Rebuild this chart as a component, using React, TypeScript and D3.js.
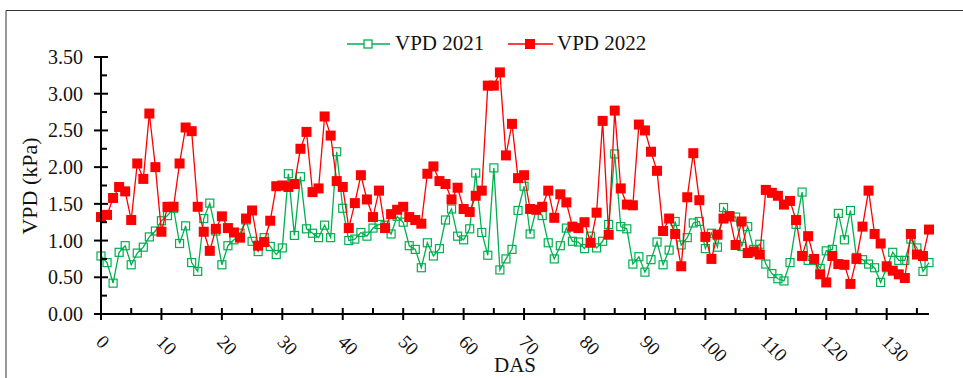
import * as d3 from "d3";

// VPD 2021 (green, open squares), one value per day (DAS 0..137)
const vpd2021 = [
  0.79, 0.7, 0.42, 0.84, 0.93, 0.67, 0.83, 0.91, 1.05, 1.13,
  1.27, 1.34, 1.44, 0.96, 1.2, 0.7, 0.58, 1.3, 1.51, 1.13,
  0.67, 0.93, 1.01, 1.1, 1.28, 0.99, 0.85, 1.04, 0.92, 0.81,
  0.9, 1.91, 1.07, 1.87, 1.16, 1.1, 1.04, 1.21, 1.04, 2.21,
  1.44, 1.0, 1.02, 1.11, 1.06, 1.17, 1.22, 1.21, 1.09, 1.33,
  1.25, 0.93, 0.88, 0.63, 0.97, 0.79, 0.89, 1.28, 1.43, 1.06,
  1.01, 1.16, 1.92, 1.11, 0.8, 1.99, 0.6, 0.75, 0.88, 1.41,
  1.74, 1.09, 1.42, 1.34, 0.97, 0.75, 0.93, 1.17, 0.99, 0.98,
  0.89, 1.06, 0.9, 0.99, 1.22, 2.18, 1.19, 1.16, 0.68, 0.78,
  0.57, 0.74, 0.98, 0.67, 0.87, 1.26, 0.94, 1.04, 1.24, 1.26,
  0.89, 1.1, 0.91, 1.45, 1.34, 1.32, 0.92, 1.19, 0.88, 0.95,
  0.68, 0.55, 0.48, 0.45, 0.7, 1.22, 1.66, 0.73, 0.73, 0.62,
  0.86, 0.88, 1.37, 1.01, 1.41, 0.77, 0.74, 0.68, 0.63, 0.43,
  0.63, 0.84, 0.73, 0.73, 1.02, 0.9, 0.58, 0.7,
];

// VPD 2022 (red, filled squares)
const vpd2022 = [
  1.32, 1.35, 1.58, 1.73, 1.67, 1.28, 2.05, 1.84, 2.73, 2.0,
  1.12, 1.46, 1.46, 2.05, 2.54, 2.49, 1.46, 1.12, 0.86, 1.16,
  1.33, 1.17, 1.11, 1.04, 1.3, 1.41, 0.93, 0.98, 1.27, 1.74,
  1.75, 1.73, 1.77, 2.25, 2.48, 1.66, 1.71, 2.69, 2.43, 1.81,
  1.73, 1.17, 1.51, 1.89, 1.56, 1.32, 1.68, 1.17, 1.36, 1.42,
  1.46, 1.32, 1.28, 1.23, 1.91, 2.01, 1.81, 1.77, 1.56, 1.72,
  1.43, 1.39, 1.61, 1.68, 3.11, 3.11, 3.29, 2.16, 2.59, 1.85,
  1.89, 1.43, 1.42, 1.46, 1.68, 1.31, 1.63, 1.52, 1.19, 1.17,
  1.25, 0.97, 1.38, 2.63, 1.08, 2.77, 1.71, 1.49, 1.48, 2.58,
  2.5, 2.21, 1.95, 1.13, 1.3, 1.09, 0.65, 1.59, 2.19, 1.55,
  1.05, 0.75, 1.08, 1.3, 1.33, 0.94, 1.26, 0.83, 0.85, 0.81,
  1.69, 1.65, 1.61, 1.49, 1.54, 1.28, 0.79, 1.06, 0.75, 0.54,
  0.43, 0.79, 0.68, 0.67, 0.41, 0.75, 1.19, 1.68, 1.09, 0.96,
  0.65, 0.59, 0.54, 0.49, 1.09, 0.81, 0.79, 1.15,
];

const xTicks = [0, 10, 20, 30, 40, 50, 60, 70, 80, 90, 100, 110, 120, 130];
const yTicks = [0, 0.5, 1, 1.5, 2, 2.5, 3, 3.5];

const GREEN = "#00b050";
const RED = "#ff0000";
const FONT = "'Liberation Serif', 'Times New Roman', serif";

export default function App() {
  const width = 963;
  const height = 378;

  const x = d3.scaleLinear().domain([0, 137]).range([101, 929]);
  const y = d3.scaleLinear().domain([0, 3.5]).range([314, 57]);

  const line = d3
    .line<number>()
    .x((_, i) => x(i))
    .y((d) => y(d));

  const minorX = d3.range(5, 137, 10);
  const minorY = d3.range(0.25, 3.5, 0.5);

  return (
    <svg
      width={width}
      height={height}
      style={{ position: "absolute", left: 0, top: 0, background: "#fff" }}
      fontFamily={FONT}
    >
      <path d="M6,378V10.5H963" fill="none" stroke="#333" strokeWidth={1} />

      {/* legend */}
      <g>
        <line x1={347} x2={390} y1={44} y2={44} stroke={GREEN} strokeWidth={1.5} />
        <rect x={364} y={40} width={8} height={8} fill="#fff" stroke={GREEN} strokeWidth={1.3} />
        <text x={395} y={50} fontSize={21} fill="#111">VPD 2021</text>
        <line x1={508} x2={553} y1={44} y2={44} stroke={RED} strokeWidth={1.5} />
        <rect x={525} y={39} width={10} height={10} fill={RED} />
        <text x={557} y={50} fontSize={21} fill="#111">VPD 2022</text>
      </g>

      {/* series */}
      <path d={line(vpd2021) ?? ""} fill="none" stroke={GREEN} strokeWidth={1.3} />
      {vpd2021.map((v, i) => (
        <rect
          key={"g" + i}
          x={x(i) - 4}
          y={y(v) - 4}
          width={8}
          height={8}
          fill="none"
          stroke={GREEN}
          strokeWidth={1.2}
        />
      ))}
      <path d={line(vpd2022) ?? ""} fill="none" stroke={RED} strokeWidth={1.3} />
      {vpd2022.map((v, i) => (
        <rect key={"r" + i} x={x(i) - 5} y={y(v) - 5} width={10} height={10} fill={RED} />
      ))}

      {/* axes */}
      <g stroke="#000" strokeWidth={2}>
        <line x1={x(0)} x2={x(0)} y1={y(0) + 1} y2={y(3.5)} />
        <line x1={x(0) - 1} x2={x(137)} y1={y(0)} y2={y(0)} />
        {yTicks.map((t) => (
          <line key={"yt" + t} x1={x(0) - 7} x2={x(0) + 7} y1={y(t)} y2={y(t)} />
        ))}
        {minorY.map((t) => (
          <line key={"ym" + t} x1={x(0)} x2={x(0) + 6} y1={y(t)} y2={y(t)} />
        ))}
        {xTicks.map((t) => (
          <line key={"xt" + t} x1={x(t)} x2={x(t)} y1={y(0) - 6} y2={y(0) + 6} />
        ))}
        {minorX.map((t) => (
          <line key={"xm" + t} x1={x(t)} x2={x(t)} y1={y(0) - 6} y2={y(0)} />
        ))}
      </g>

      {yTicks.map((t) => (
        <text
          key={"yl" + t}
          x={83}
          y={y(t)}
          dy="0.35em"
          textAnchor="end"
          fontSize={20}
          fill="#111"
        >
          {t.toFixed(2)}
        </text>
      ))}
      {xTicks.map((t) => (
        <text
          key={"xl" + t}
          transform={`translate(${x(t) - 6},${343}) rotate(45)`}
          fontSize={19}
          fill="#111"
        >
          {t}
        </text>
      ))}

      <text
        transform="translate(37,186) rotate(-90)"
        textAnchor="middle"
        fontSize={22}
        fill="#111"
      >
        VPD (kPa)
      </text>
      <text x={515} y={372} textAnchor="middle" fontSize={21} fill="#111">
        DAS
      </text>
    </svg>
  );
}
